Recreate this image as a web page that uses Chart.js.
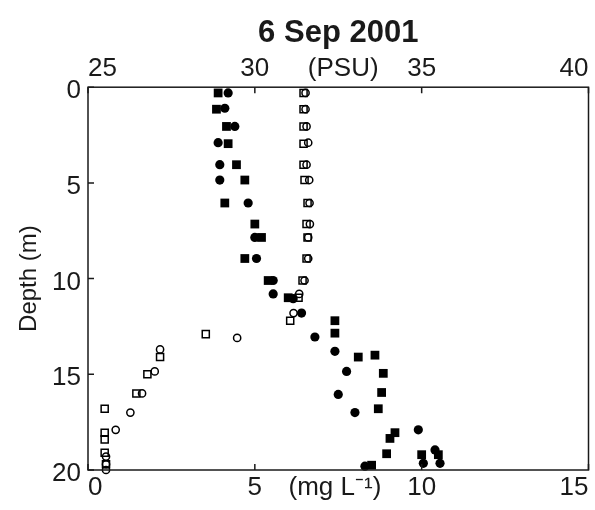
<!DOCTYPE html>
<html>
<head>
<meta charset="utf-8">
<script src="https://cdn.jsdelivr.net/npm/chart.js@4.4.1/dist/chart.umd.min.js"></script>
<style>
  html, body { margin: 0; padding: 0; background: #fff; }
</style>
</head>
<body>
<canvas id="profileChart" width="595" height="510"></canvas>
<script>
// salinity (PSU, top axis) - filled markers
const salCircleDepth = [0.3, 1.1, 2.05, 2.9, 4.05, 4.85, 6.05, 7.85, 8.95, 10.1, 10.8, 11.05, 11.8, 13.05, 13.8, 14.85, 16.05, 17.0, 17.9, 18.95, 19.65, 19.65, 19.8];
const salCircleValue = [29.2, 29.1, 29.4, 28.9, 28.95, 28.95, 29.8, 30.0, 30.05, 30.55, 30.55, 31.15, 31.4, 31.8, 32.4, 32.75, 32.5, 33.0, 34.9, 35.4, 35.05, 35.55, 33.3];
const salSquareDepth = [0.3, 1.15, 2.05, 2.95, 4.05, 4.85, 6.05, 7.15, 7.85, 8.95, 10.1, 11.0, 12.2, 12.85, 14.1, 14.0, 14.95, 15.95, 16.8, 18.05, 18.35, 19.15, 19.2, 19.2, 19.75];
const salSquareValue = [28.9, 28.85, 29.15, 29.2, 29.45, 29.7, 29.1, 30.0, 30.2, 29.7, 30.4, 31.0, 32.4, 32.4, 33.1, 33.6, 33.85, 33.8, 33.7, 34.2, 34.05, 33.95, 35.0, 35.5, 33.5];

// oxygen (mg L-1, bottom axis) - open markers
const oxyCircleDepth = [0.3, 1.15, 2.05, 2.9, 4.05, 4.85, 6.05, 7.15, 7.85, 8.95, 10.1, 10.8, 11.8, 13.1, 13.7, 14.85, 16.0, 17.0, 17.9, 19.3, 19.7, 20.0];
const oxyCircleValue = [6.52, 6.52, 6.55, 6.6, 6.55, 6.63, 6.64, 6.65, 6.6, 6.6, 6.49, 6.33, 6.16, 4.47, 2.16, 2.0, 1.62, 1.27, 0.83, 0.54, 0.54, 0.54];
const oxySquareDepth = [0.3, 1.15, 2.05, 2.95, 4.05, 4.85, 6.05, 7.15, 7.85, 8.95, 10.1, 11.0, 12.2, 12.9, 14.1, 15.0, 16.0, 16.8, 18.05, 18.4, 19.1, 19.7];
const oxySquareValue = [6.46, 6.46, 6.46, 6.46, 6.46, 6.49, 6.58, 6.55, 6.58, 6.55, 6.43, 6.31, 6.06, 3.53, 2.16, 1.78, 1.45, 0.5, 0.5, 0.5, 0.5, 0.54];

// axis unit labels sit between the tick labels
const unitTopValue = 32.65;
const unitTopText = '(PSU)';
const unitBottomValue = 7.4;
const unitBottomText = '(mg L\u207B\u00B9)';

const FONT = 'Liberation Sans, Arial, Helvetica, sans-serif';
const INK = '#1a1a1a';

function toPoints(xs, ys) {
    return xs.map((v, i) => ({ x: v, y: ys[i] }));
}

function addUnitTick(value) {
    return scale => {
        scale.ticks.push({ value: value });
        scale.ticks.sort((a, b) => a.value - b.value);
    };
}

function unitLabel(value, text) {
    return v => (v === value ? text : v);
}

// box round the plot and inward tick marks like the original figure
const frameAndTicks = {
    id: 'frameAndTicks',
    afterDraw(chart) {
        const { ctx, chartArea: a, scales } = chart;
        const len = 6;
        ctx.save();
        ctx.strokeStyle = INK;
        ctx.lineWidth = 1.5;
        ctx.strokeRect(a.left, a.top, a.right - a.left, a.bottom - a.top);
        ctx.beginPath();
        scales.x.ticks.forEach(t => {
            if (t.value === unitBottomValue) return;
            const px = scales.x.getPixelForValue(t.value);
            ctx.moveTo(px, a.bottom);
            ctx.lineTo(px, a.bottom - len);
        });
        scales.x2.ticks.forEach(t => {
            if (t.value === unitTopValue) return;
            const px = scales.x2.getPixelForValue(t.value);
            ctx.moveTo(px, a.top);
            ctx.lineTo(px, a.top + len);
        });
        scales.y.ticks.forEach(t => {
            const py = scales.y.getPixelForValue(t.value);
            ctx.moveTo(a.left, py);
            ctx.lineTo(a.left + len, py);
        });
        ctx.stroke();
        ctx.restore();
    }
};

const tickFont = { family: FONT, size: 26 };

new Chart(document.getElementById('profileChart'), {
    type: 'scatter',
    data: {
        datasets: [
            {
                label: 'Salinity (circles)',
                data: toPoints(salCircleValue, salCircleDepth),
                xAxisID: 'x2',
                pointStyle: 'circle',
                pointRadius: 4.6,
                backgroundColor: '#000',
                borderColor: '#000',
                borderWidth: 0
            },
            {
                label: 'Salinity (squares)',
                data: toPoints(salSquareValue, salSquareDepth),
                xAxisID: 'x2',
                pointStyle: 'rect',
                pointRadius: 6.2,
                backgroundColor: '#000',
                borderColor: '#000',
                borderWidth: 0
            },
            {
                label: 'Oxygen (circles)',
                data: toPoints(oxyCircleValue, oxyCircleDepth),
                xAxisID: 'x',
                pointStyle: 'circle',
                pointRadius: 3.6,
                backgroundColor: 'rgba(0,0,0,0)',
                borderColor: '#000',
                borderWidth: 1.5
            },
            {
                label: 'Oxygen (squares)',
                data: toPoints(oxySquareValue, oxySquareDepth),
                xAxisID: 'x',
                pointStyle: 'rect',
                pointRadius: 5,
                backgroundColor: 'rgba(0,0,0,0)',
                borderColor: '#000',
                borderWidth: 1.5
            }
        ]
    },
    options: {
        responsive: false,
        animation: false,
        devicePixelRatio: 1,
        clip: false,
        layout: { padding: { top: 0, right: 3, bottom: 0, left: 0 } },
        plugins: {
            legend: { display: false },
            tooltip: { enabled: false },
            title: {
                display: true,
                text: '6 Sep 2001',
                fullSize: false,
                color: INK,
                font: { family: FONT, size: 31, weight: 'bold' },
                padding: { top: 15, bottom: 5 }
            }
        },
        scales: {
            x: {
                type: 'linear',
                position: 'bottom',
                min: 0,
                max: 15,
                grid: { display: false, drawTicks: false },
                border: { display: false },
                ticks: {
                    stepSize: 5,
                    align: 'inner',
                    autoSkip: false,
                    maxRotation: 0,
                    padding: 2,
                    color: INK,
                    font: tickFont,
                    callback: unitLabel(unitBottomValue, unitBottomText)
                },
                afterBuildTicks: addUnitTick(unitBottomValue),
                afterFit: s => { s.height = 40; }
            },
            x2: {
                type: 'linear',
                position: 'top',
                min: 25,
                max: 40,
                grid: { display: false, drawTicks: false },
                border: { display: false },
                ticks: {
                    stepSize: 5,
                    align: 'inner',
                    autoSkip: false,
                    maxRotation: 0,
                    padding: 3,
                    color: INK,
                    font: tickFont,
                    callback: unitLabel(unitTopValue, unitTopText)
                },
                afterBuildTicks: addUnitTick(unitTopValue),
                afterFit: s => { s.height = 30; }
            },
            y: {
                type: 'linear',
                position: 'left',
                reverse: true,
                min: 0,
                max: 20,
                grid: { display: false, drawTicks: false },
                border: { display: false },
                ticks: {
                    stepSize: 5,
                    padding: 7,
                    labelOffset: 4,
                    color: INK,
                    font: tickFont
                },
                title: {
                    display: true,
                    text: 'Depth (m)',
                    color: INK,
                    font: { family: FONT, size: 24 },
                    padding: { top: 15, bottom: 0 }
                },
                afterFit: s => { s.width = 88; }
            }
        }
    },
    plugins: [frameAndTicks]
});
</script>
</body>
</html>
